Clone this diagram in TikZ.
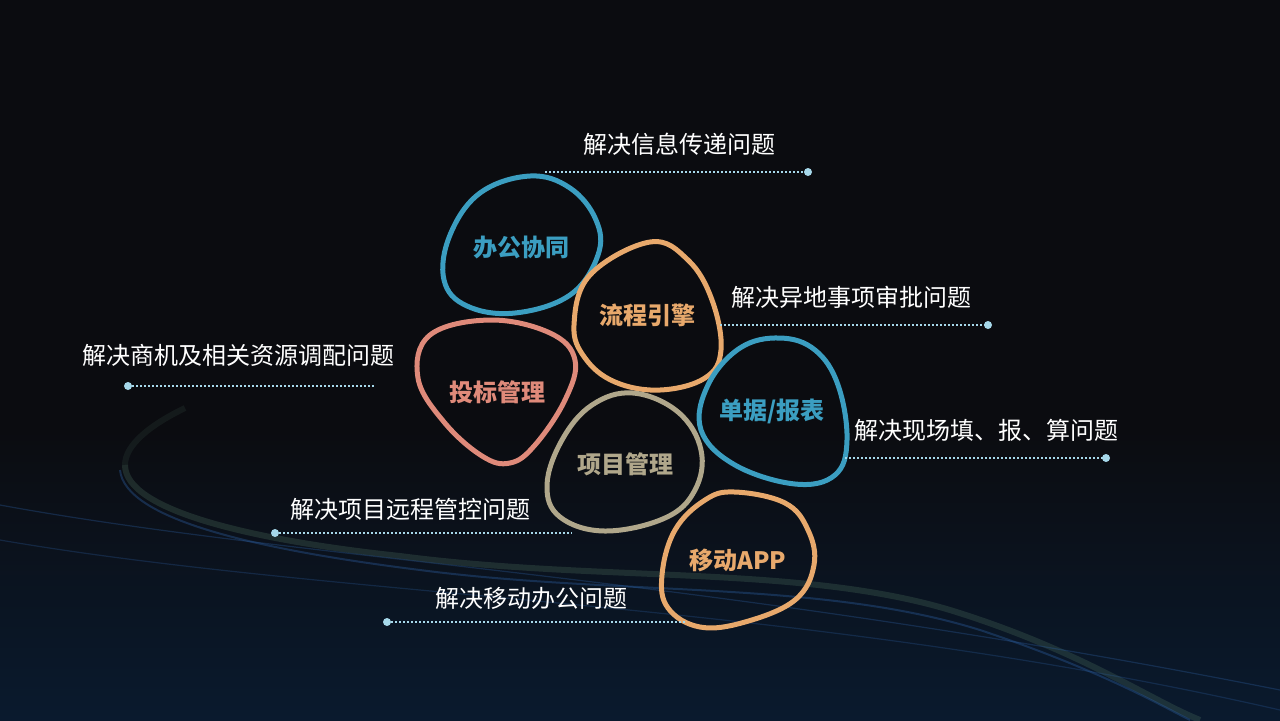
\documentclass[tikz,border=0pt]{standalone}
\usepackage{fontspec}
\newfontfamily\cjk{Noto Sans CJK SC}
\usetikzlibrary{positioning}
\definecolor{bgdark}{HTML}{0B0C10}
\definecolor{bgblue}{HTML}{0A1A2E}
\definecolor{oablue}{HTML}{3B9EC1}
\definecolor{flowora}{HTML}{E8A96C}
\definecolor{bidred}{HTML}{DF8A7A}
\definecolor{projtan}{HTML}{B0A78B}
\definecolor{leadcol}{HTML}{A6D8EA}
\definecolor{wavecol}{HTML}{4A6E5C}
\definecolor{waveblue}{HTML}{2A5A9A}
\begin{document}
\begin{tikzpicture}[x=0.5pt,y=-0.5pt,
    blob/.style={line width=2.5pt, line join=round},
    blobtext/.style={font=\cjk\bfseries\fontsize{12pt}{14pt}\selectfont},
    note/.style={font=\cjk\fontsize{12pt}{14pt}\selectfont, text=white},
    leader/.style={leadcol, line width=0.8pt, dash pattern=on 0.8pt off 1.2pt},
    enddot/.style={fill=leadcol, draw=none}]
    % background
    \useasboundingbox (0,0) rectangle (1280,720);
    \fill[bgdark] (0,0) rectangle (1280,720);
    \shade[top color=bgdark, bottom color=bgblue] (0,430) rectangle (1280,720);
    \draw[wavecol, line width=3pt, opacity=0.15] (185,408) .. controls (150,425) and (125,445) .. (125,465);
    \draw[wavecol, line width=3pt, opacity=0.3] (125,465) .. controls (125,510) and (250,540) .. (400,556) .. controls (600,582) and (800,565) .. (950,610) .. controls (1080,650) and (1150,700) .. (1200,720);
    \draw[waveblue, line width=1pt, opacity=0.4] (120,470) .. controls (125,520) and (260,550) .. (420,570) .. controls (620,596) and (820,580) .. (980,630) .. controls (1100,670) and (1160,705) .. (1190,720);
    \draw[waveblue, line width=0.6pt, opacity=0.35] (0,505) .. controls (300,560) and (700,575) .. (1280,690);
    \draw[waveblue, line width=0.6pt, opacity=0.3] (0,540) .. controls (350,600) and (800,600) .. (1280,710);

    % blobs
    \draw[blob, oablue] plot[smooth cycle, tension=0.65] coordinates {(530,176) (570,188) (596,220) (598,255) (570,295) (515,313) (467,306) (444,280) (450,235) (480,193)};
    \draw[blob, flowora] plot[smooth cycle, tension=0.65] coordinates {(650,242) (688,260) (712,300) (721,350) (705,378) (660,390) (615,382) (585,358) (574,325) (590,275)};
    \draw[blob, bidred] plot[smooth cycle, tension=0.65] coordinates {(490,320) (550,333) (575,360) (565,400) (535,445) (510,463) (482,456) (444,422) (418,378) (430,335)};
    \draw[blob, projtan] plot[smooth cycle, tension=0.65] coordinates {(633,393) (678,412) (701,450) (695,490) (665,518) (605,531) (560,517) (547,485) (562,440) (592,405)};
    \draw[blob, oablue] plot[smooth cycle, tension=0.65] coordinates {(780,338) (815,350) (838,385) (847,440) (835,475) (795,484) (735,465) (701,430) (708,385) (740,348)};
    \draw[blob, flowora] plot[smooth cycle, tension=0.65] coordinates {(735,492) (785,503) (808,530) (814,565) (795,600) (745,622) (700,627) (668,608) (662,575) (675,530) (705,500)};

    % blob titles
    \node[blobtext, text=oablue] (oa) at (521,247) {办公协同};
    \node[blobtext, text=flowora] (flow) at (647,315) {流程引擎};
    \node[blobtext, text=bidred] (bid) at (497,392) {投标管理};
    \node[blobtext, text=projtan] (proj) at (625,464) {项目管理};
    \node[blobtext, text=oablue] (bill) at (772,411) {单据/报表};
    \node[blobtext, text=flowora] (app) at (738,560) {移动APP};

    % notes and leaders
    \node[note] (n1) at (679,144) {解决信息传递问题};
    \coordinate (l1) at (545,172); \coordinate (d1) at (808,172);
    \draw[leader] (l1) -- (d1); \fill[enddot] (d1) circle (4);

    \node[note] (n2) at (851,297) {解决异地事项审批问题};
    \coordinate (l2) at (720,325); \coordinate (d2) at (988,325);
    \draw[leader] (l2) -- (d2); \fill[enddot] (d2) circle (4);

    \node[note] (n3) at (238,355) {解决商机及相关资源调配问题};
    \coordinate (d3) at (128,386); \coordinate (l3) at (375,386);
    \draw[leader] (d3) -- (l3); \fill[enddot] (d3) circle (4);

    \node[note] (n4) at (986,430) {解决现场填、报、算问题};
    \coordinate (l4) at (845,458); \coordinate (d4) at (1106,458);
    \draw[leader] (l4) -- (d4); \fill[enddot] (d4) circle (4);

    \node[note] (n5) at (410,509) {解决项目远程管控问题};
    \coordinate (d5) at (275,533); \coordinate (l5) at (572,533);
    \draw[leader] (d5) -- (l5); \fill[enddot] (d5) circle (4);

    \node[note] (n6) at (531,598) {解决移动办公问题};
    \coordinate (d6) at (387,622); \coordinate (l6) at (685,622);
    \draw[leader] (d6) -- (l6); \fill[enddot] (d6) circle (4);
\end{tikzpicture}
\end{document}
